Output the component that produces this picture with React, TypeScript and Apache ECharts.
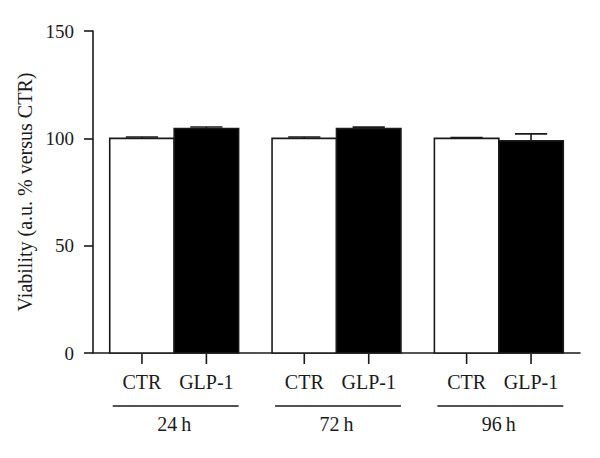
import React, { useEffect, useRef } from "react";
import * as echarts from "echarts";

const groups = ["24\u2009h", "72\u2009h", "96\u2009h"];
const treatments = ["CTR", "GLP-1"];
const ctrMean = [100, 100, 100];
const ctrErr = [0.6, 0.6, 0.4];
const glpMean = [104.6, 104.5, 98.8];
const glpErr = [0.7, 0.7, 3.3];
const yTicks = [0, 50, 100, 150];

const FONT = "Liberation Serif";
const INK = "#1a1a1a";

export default function App() {
  const ref = useRef<HTMLDivElement>(null);
  useEffect(() => {
    if (!ref.current) return;
    const chart = echarts.init(ref.current, null, { renderer: "svg" });
    const barRender = (s: number) => (params: any, api: any) => {
      const ci = api.value(0);
      const v = api.value(1);
      const e = api.value(2);
      const base = api.coord([ci, 0]);
      const band = api.size([1, 0])[0];
      const bw = band * 0.397;
      const x0 = s === 0 ? base[0] - bw : base[0];
      const top = api.coord([ci, v])[1];
      const errTop = api.coord([ci, v + e])[1];
      const y0 = base[1];
      const cx = x0 + bw / 2;
      const st = { stroke: INK, lineWidth: 1.6 };
      return {
        type: "group",
        children: [
          {
            type: "rect",
            shape: { x: x0, y: top, width: bw, height: y0 - top },
            style: { fill: s === 0 ? "#fff" : "#000", stroke: INK, lineWidth: 1.6 },
          },
          { type: "line", shape: { x1: cx, y1: top, x2: cx, y2: errTop }, style: st },
          { type: "line", shape: { x1: cx - bw / 4, y1: errTop, x2: cx + bw / 4, y2: errTop }, style: st },
          { type: "line", shape: { x1: cx, y1: y0 + 1, x2: cx, y2: y0 + 11 }, style: st },
          {
            type: "text",
            x: cx,
            y: y0 + 29,
            style: {
              text: treatments[s],
              fill: INK,
              font: `20px "${FONT}"`,
              align: "center",
              verticalAlign: "middle",
            },
          },
        ],
      };
    };
    const groupRender = (params: any, api: any) => {
      const ci = api.value(0);
      const base = api.coord([ci, 0]);
      const band = api.size([1, 0])[0];
      const bw = band * 0.397;
      return {
        type: "line",
        shape: { x1: base[0] - bw + 3, y1: base[1] + 53, x2: base[0] + bw, y2: base[1] + 53 },
        style: { stroke: INK, lineWidth: 1.6 },
      };
    };
    chart.setOption({
      animation: false,
      backgroundColor: "#fff",
      grid: { left: 93, right: 20, top: 31, bottom: 105 },
      xAxis: {
        type: "category",
        data: groups,
        axisLine: { lineStyle: { color: INK, width: 1.6 } },
        axisTick: { show: false },
        axisLabel: { margin: 61, color: INK, fontFamily: FONT, fontSize: 20 },
      },
      yAxis: {
        type: "value",
        min: 0,
        max: 150,
        interval: 50,
        name: "Viability (a.u. % versus CTR)",
        nameLocation: "middle",
        nameRotate: 90,
        nameGap: 46,
        nameTextStyle: { color: INK, fontFamily: FONT, fontSize: 20 },
        axisLine: { show: true, lineStyle: { color: INK, width: 1.6 } },
        axisTick: { show: true, length: 9, lineStyle: { color: INK, width: 1.6 } },
        axisLabel: {
          margin: 19,
          color: INK,
          fontFamily: FONT,
          fontSize: 19,
          formatter: (v: number) => (yTicks.includes(v) ? String(v) : ""),
        },
        splitLine: { show: false },
      },
      series: [
        {
          type: "custom",
          name: treatments[0],
          renderItem: barRender(0),
          data: groups.map((g, i) => [i, ctrMean[i], ctrErr[i]]),
          clip: false,
        },
        {
          type: "custom",
          name: treatments[1],
          renderItem: barRender(1),
          data: groups.map((g, i) => [i, glpMean[i], glpErr[i]]),
          clip: false,
        },
        {
          type: "custom",
          renderItem: groupRender,
          data: groups.map((g, i) => [i]),
          clip: false,
        },
      ],
    });
    return () => chart.dispose();
  }, []);
  return <div ref={ref} style={{ width: 600, height: 458, position: "absolute", left: 0, top: 0 }} />;
}
